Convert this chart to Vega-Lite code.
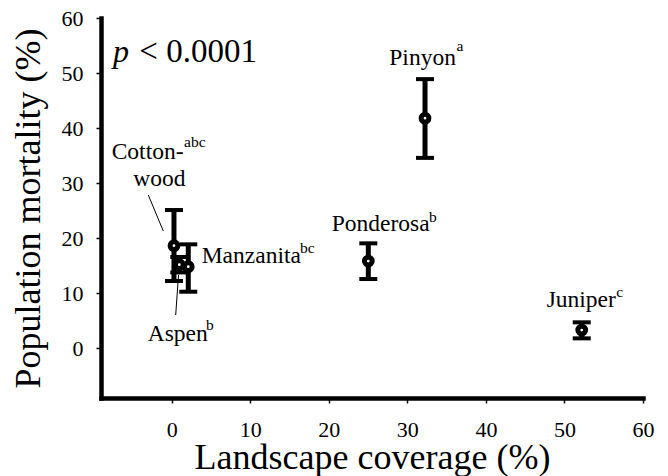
{
  "$schema": "https://vega.github.io/schema/vega-lite/v6.json",
  "width": 542,
  "height": 380,
  "autosize": {"type": "none"},
  "padding": {"left": 101, "top": 18, "right": 25, "bottom": 78},
  "background": "white",
  "config": {
    "view": {"stroke": null},
    "font": "Liberation Serif",
    "axis": {
      "grid": false,
      "domainColor": "black",
      "domainWidth": 4.5,
      "domainCap": "square",
      "tickColor": "black",
      "tickWidth": 1.5,
      "tickSize": 5,
      "labelFont": "Liberation Serif",
      "labelFontSize": 22,
      "labelColor": "black",
      "titleFont": "Liberation Serif",
      "titleFontSize": 36,
      "titleFontWeight": "normal",
      "titleColor": "black",
      "labelFlush": false,
      "labelOverlap": false
    }
  },
  "datasets": {
    "points": [
      {"species": "Cottonwood", "x": 0.29, "y": 18.65, "lo": 12.24, "hi": 25.13},
      {"species": "Aspen", "x": 0.97, "y": 15.2, "lo": 13.8, "hi": 16.6},
      {"species": "Manzanita", "x": 2.11, "y": 14.84, "lo": 10.3, "hi": 18.9},
      {"species": "Ponderosa", "x": 25.03, "y": 15.87, "lo": 12.6, "hi": 19.08},
      {"species": "Pinyon", "x": 32.25, "y": 41.8, "lo": 34.6, "hi": 48.9},
      {"species": "Juniper", "x": 52.2, "y": 3.34, "lo": 1.83, "hi": 4.74}
    ],
    "labels": [
      {"text": "Pinyon", "x": 27.7, "y": 51.46},
      {"text": "Ponderosa", "x": 20.37, "y": 21.37},
      {"text": "Juniper", "x": 47.74, "y": 7.57},
      {"text": "Manzanita", "x": 3.82, "y": 15.45},
      {"text": "Aspen", "x": -3.06, "y": 1.34},
      {"text": "Cotton-", "x": -7.64, "y": 34.34},
      {"text": "wood", "x": -4.89, "y": 29.49}
    ],
    "sups": [
      {"text": "a", "x": 36.25, "y": 54.06},
      {"text": "b", "x": 32.75, "y": 22.95},
      {"text": "c", "x": 56.6, "y": 9.28},
      {"text": "bc", "x": 16.33, "y": 17.38},
      {"text": "b", "x": 4.37, "y": 3.34},
      {"text": "abc", "x": 1.57, "y": 36.63}
    ],
    "pItalic": [{"text": "p", "x": -7.47, "y": 51.95}],
    "pRest": [{"text": "< 0.0001", "x": -4.12, "y": 51.95}],
    "leaders": [
      {"x": -2.98, "y": 27.86, "x2": -1.07, "y2": 21.32},
      {"x": 0.51, "y": 6.07, "x2": 0.87, "y2": 13.33}
    ]
  },
  "layer": [
    {
      "data": {"name": "leaders"},
      "mark": {"type": "rule", "color": "black", "strokeWidth": 1},
      "encoding": {
        "x": {"field": "x", "type": "quantitative", "scale": {"domain": [-9, 60], "nice": false, "zero": false},
              "axis": {"title": "Landscape coverage (%)", "values": [0, 10, 20, 30, 40, 50, 60], "labelPadding": 16, "titlePadding": 0}},
        "y": {"field": "y", "type": "quantitative", "scale": {"domain": [-9, 60], "nice": false, "zero": false},
              "axis": {"title": "Population mortality (%)", "values": [0, 10, 20, 30, 40, 50, 60], "labelPadding": 13, "titlePadding": 14}},
        "x2": {"field": "x2"},
        "y2": {"field": "y2"}
      }
    },
    {
      "data": {"name": "points"},
      "mark": {"type": "rule", "color": "black", "strokeWidth": 5},
      "encoding": {
        "x": {"field": "x", "type": "quantitative", "scale": {"domain": [-9, 60], "nice": false, "zero": false},
              "axis": {"title": "Landscape coverage (%)", "values": [0, 10, 20, 30, 40, 50, 60], "labelPadding": 16, "titlePadding": 0}},
        "y": {"field": "lo", "type": "quantitative", "scale": {"domain": [-9, 60], "nice": false, "zero": false},
              "axis": {"title": "Population mortality (%)", "values": [0, 10, 20, 30, 40, 50, 60], "labelPadding": 13, "titlePadding": 14}},
        "y2": {"field": "hi"}
      }
    },
    {
      "data": {"name": "points"},
      "mark": {"type": "tick", "orient": "horizontal", "color": "black", "size": 18, "thickness": 4, "opacity": 1},
      "encoding": {
        "x": {"field": "x", "type": "quantitative", "scale": {"domain": [-9, 60], "nice": false, "zero": false},
              "axis": {"title": "Landscape coverage (%)", "values": [0, 10, 20, 30, 40, 50, 60], "labelPadding": 16, "titlePadding": 0}},
        "y": {"field": "lo", "type": "quantitative", "scale": {"domain": [-9, 60], "nice": false, "zero": false},
              "axis": {"title": "Population mortality (%)", "values": [0, 10, 20, 30, 40, 50, 60], "labelPadding": 13, "titlePadding": 14}}
      }
    },
    {
      "data": {"name": "points"},
      "mark": {"type": "tick", "orient": "horizontal", "color": "black", "size": 18, "thickness": 4, "opacity": 1},
      "encoding": {
        "x": {"field": "x", "type": "quantitative", "scale": {"domain": [-9, 60], "nice": false, "zero": false},
              "axis": {"title": "Landscape coverage (%)", "values": [0, 10, 20, 30, 40, 50, 60], "labelPadding": 16, "titlePadding": 0}},
        "y": {"field": "hi", "type": "quantitative", "scale": {"domain": [-9, 60], "nice": false, "zero": false},
              "axis": {"title": "Population mortality (%)", "values": [0, 10, 20, 30, 40, 50, 60], "labelPadding": 13, "titlePadding": 14}}
      }
    },
    {
      "data": {"name": "points"},
      "mark": {"type": "point", "shape": "circle", "filled": false, "fill": "white", "fillOpacity": 1, "stroke": "black", "strokeWidth": 5, "size": 60, "opacity": 1},
      "encoding": {
        "x": {"field": "x", "type": "quantitative", "scale": {"domain": [-9, 60], "nice": false, "zero": false},
              "axis": {"title": "Landscape coverage (%)", "values": [0, 10, 20, 30, 40, 50, 60], "labelPadding": 16, "titlePadding": 0}},
        "y": {"field": "y", "type": "quantitative", "scale": {"domain": [-9, 60], "nice": false, "zero": false},
              "axis": {"title": "Population mortality (%)", "values": [0, 10, 20, 30, 40, 50, 60], "labelPadding": 13, "titlePadding": 14}}
      }
    },
    {
      "data": {"name": "labels"},
      "mark": {"type": "text", "align": "left", "baseline": "alphabetic", "font": "Liberation Serif", "fontSize": 23.5, "color": "black"},
      "encoding": {
        "x": {"field": "x", "type": "quantitative", "scale": {"domain": [-9, 60], "nice": false, "zero": false},
              "axis": {"title": "Landscape coverage (%)", "values": [0, 10, 20, 30, 40, 50, 60], "labelPadding": 16, "titlePadding": 0}},
        "y": {"field": "y", "type": "quantitative", "scale": {"domain": [-9, 60], "nice": false, "zero": false},
              "axis": {"title": "Population mortality (%)", "values": [0, 10, 20, 30, 40, 50, 60], "labelPadding": 13, "titlePadding": 14}},
        "text": {"field": "text"}
      }
    },
    {
      "data": {"name": "sups"},
      "mark": {"type": "text", "align": "left", "baseline": "alphabetic", "font": "Liberation Serif", "fontSize": 15.5, "color": "black"},
      "encoding": {
        "x": {"field": "x", "type": "quantitative", "scale": {"domain": [-9, 60], "nice": false, "zero": false},
              "axis": {"title": "Landscape coverage (%)", "values": [0, 10, 20, 30, 40, 50, 60], "labelPadding": 16, "titlePadding": 0}},
        "y": {"field": "y", "type": "quantitative", "scale": {"domain": [-9, 60], "nice": false, "zero": false},
              "axis": {"title": "Population mortality (%)", "values": [0, 10, 20, 30, 40, 50, 60], "labelPadding": 13, "titlePadding": 14}},
        "text": {"field": "text"}
      }
    },
    {
      "data": {"name": "pItalic"},
      "mark": {"type": "text", "align": "left", "baseline": "alphabetic", "font": "Liberation Serif", "fontStyle": "italic", "fontSize": 32, "color": "black"},
      "encoding": {
        "x": {"field": "x", "type": "quantitative", "scale": {"domain": [-9, 60], "nice": false, "zero": false},
              "axis": {"title": "Landscape coverage (%)", "values": [0, 10, 20, 30, 40, 50, 60], "labelPadding": 16, "titlePadding": 0}},
        "y": {"field": "y", "type": "quantitative", "scale": {"domain": [-9, 60], "nice": false, "zero": false},
              "axis": {"title": "Population mortality (%)", "values": [0, 10, 20, 30, 40, 50, 60], "labelPadding": 13, "titlePadding": 14}},
        "text": {"field": "text"}
      }
    },
    {
      "data": {"name": "pRest"},
      "mark": {"type": "text", "align": "left", "baseline": "alphabetic", "font": "Liberation Serif", "fontSize": 33, "color": "black"},
      "encoding": {
        "x": {"field": "x", "type": "quantitative", "scale": {"domain": [-9, 60], "nice": false, "zero": false},
              "axis": {"title": "Landscape coverage (%)", "values": [0, 10, 20, 30, 40, 50, 60], "labelPadding": 16, "titlePadding": 0}},
        "y": {"field": "y", "type": "quantitative", "scale": {"domain": [-9, 60], "nice": false, "zero": false},
              "axis": {"title": "Population mortality (%)", "values": [0, 10, 20, 30, 40, 50, 60], "labelPadding": 13, "titlePadding": 14}},
        "text": {"field": "text"}
      }
    }
  ]
}
